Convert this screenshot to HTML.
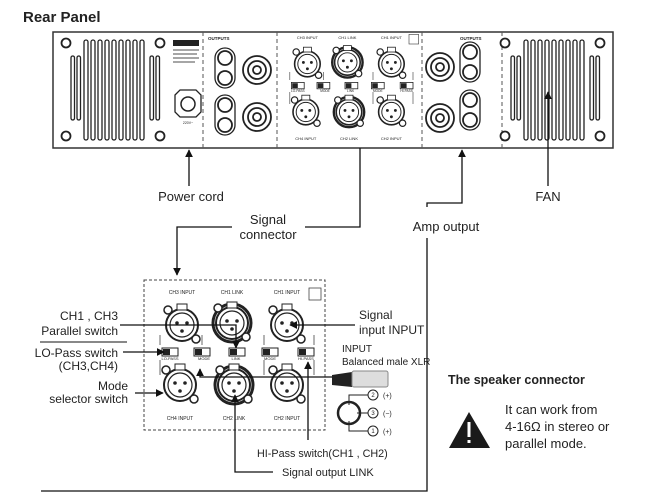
<!DOCTYPE html>
<html><head><meta charset="utf-8"><style>
body{margin:0;background:#fff}
svg{display:block}
text{font-family:"Liberation Sans","DejaVu Sans",sans-serif;fill:#222}
</style></head><body>
<svg width="656" height="500" viewBox="0 0 656 500" xmlns="http://www.w3.org/2000/svg">
<defs>
<marker id="ar" viewBox="0 0 10 10" refX="9" refY="5" markerWidth="6" markerHeight="6" orient="auto"><path d="M0,0L10,5L0,10z" fill="#111"/></marker>
<g id="xlr">
<circle r="16" fill="#fff" stroke="#222" stroke-width="2"/><circle r="12" fill="none" stroke="#222" stroke-width="1.2"/>
<circle cx="-5" cy="-2" r="1.8" fill="#222"/><circle cx="5" cy="-2" r="1.8" fill="#222"/><circle cx="0" cy="6" r="1.8" fill="#222"/>
<circle cx="-14" cy="-15" r="4" fill="#fff" stroke="#222" stroke-width="1.5"/><circle cx="14" cy="14" r="4" fill="#fff" stroke="#222" stroke-width="1.5"/>
<rect x="-5" y="-21" width="10" height="6" fill="#fff" stroke="#222"/>
</g>
<g id="sw"><rect x="-8" y="-4" width="16" height="8" fill="#fff" stroke="#222"/><rect x="-7" y="-3" width="7" height="6" fill="#222"/></g>
<g id="mod">
<g font-size="5" text-anchor="middle">
<text x="38" y="14">CH3 INPUT</text><text x="88" y="14">CH1 LINK</text><text x="143" y="14">CH1 INPUT</text>
<text x="36" y="140">CH4 INPUT</text><text x="90" y="140">CH2 LINK</text><text x="143" y="140">CH2 INPUT</text>
<text x="26" y="80" font-size="4">LO-PASS</text><text x="60" y="80" font-size="4">MODE</text><text x="92" y="80" font-size="4">LINK</text><text x="126" y="80" font-size="4">MODE</text><text x="162" y="80" font-size="4">HI-PASS</text>
</g>
<rect x="165" y="8" width="12" height="12" fill="none" stroke="#444" stroke-width="0.8"/>
<path d="M16,55V65M16,80V95M58,55V65M120,55V65M120,80V95M170,55V65M170,80V95" stroke="#444" stroke-width="0.8"/>
<use href="#xlr" x="38" y="45"/><use href="#xlr" x="36" y="105"/><use href="#xlr" x="143" y="45"/><use href="#xlr" x="143" y="105"/>
<circle cx="88" cy="43" r="19" fill="#fff" stroke="#222" stroke-width="3"/><use href="#xlr" x="88" y="43"/>
<circle cx="90" cy="105" r="19" fill="#fff" stroke="#222" stroke-width="3"/><use href="#xlr" x="90" y="105"/>
<use href="#sw" x="26" y="72"/><use href="#sw" x="58" y="72"/><use href="#sw" x="93" y="72"/><use href="#sw" x="126" y="72"/><use href="#sw" x="162" y="72"/>
</g>
</defs>

<text x="23" y="22" font-size="15" font-weight="bold" fill="#111">Rear Panel</text>

<rect x="53" y="32" width="560" height="116" fill="#fff" stroke="#333" stroke-width="1.5"/>
<path d="M203,32V148M277,32V148M422,32V148M502,32V148" stroke="#555" stroke-dasharray="4,3"/>
<g fill="#fff" stroke="#222" stroke-width="1.8">
<circle cx="66" cy="43" r="4.5"/><circle cx="160" cy="43" r="4.5"/><circle cx="66" cy="136" r="4.5"/><circle cx="160" cy="136" r="4.5"/>
<circle cx="505" cy="43" r="4.5"/><circle cx="600" cy="43" r="4.5"/><circle cx="505" cy="136" r="4.5"/><circle cx="600" cy="136" r="4.5"/>
</g>
<g fill="#fff" stroke="#222" stroke-width="1.3">
<rect x="71" y="56" width="3.5" height="64" rx="1.7"/><rect x="77" y="56" width="3.5" height="64" rx="1.7"/>
<rect x="150" y="56" width="3.5" height="64" rx="1.7"/><rect x="156" y="56" width="3.5" height="64" rx="1.7"/>
<rect x="84" y="40" width="4" height="100" rx="2"/><rect x="91" y="40" width="4" height="100" rx="2"/><rect x="98" y="40" width="4" height="100" rx="2"/><rect x="105" y="40" width="4" height="100" rx="2"/><rect x="112" y="40" width="4" height="100" rx="2"/><rect x="119" y="40" width="4" height="100" rx="2"/><rect x="126" y="40" width="4" height="100" rx="2"/><rect x="133" y="40" width="4" height="100" rx="2"/><rect x="140" y="40" width="4" height="100" rx="2"/>
<rect x="511" y="56" width="3.5" height="64" rx="1.7"/><rect x="517" y="56" width="3.5" height="64" rx="1.7"/>
<rect x="590" y="56" width="3.5" height="64" rx="1.7"/><rect x="596" y="56" width="3.5" height="64" rx="1.7"/>
<rect x="524" y="40" width="4" height="100" rx="2"/><rect x="531" y="40" width="4" height="100" rx="2"/><rect x="538" y="40" width="4" height="100" rx="2"/><rect x="545" y="40" width="4" height="100" rx="2"/><rect x="552" y="40" width="4" height="100" rx="2"/><rect x="559" y="40" width="4" height="100" rx="2"/><rect x="566" y="40" width="4" height="100" rx="2"/><rect x="573" y="40" width="4" height="100" rx="2"/><rect x="580" y="40" width="4" height="100" rx="2"/>
</g>
<rect x="173" y="40" width="26" height="6" fill="#222"/>
<path d="M173,50H199M173,54H197M173,58H199M173,62H195" stroke="#888" stroke-width="1.5"/>
<path d="M175,95L180,90H196L201,95V112L196,117H180L175,112Z" fill="#fff" stroke="#222" stroke-width="1.3"/>
<circle cx="188" cy="104" r="7" fill="#fff" stroke="#222" stroke-width="1.5"/>
<text x="188" y="124" font-size="3.5" text-anchor="middle">220V~</text>
<g fill="#fff" stroke="#222" stroke-width="1.3">
<rect x="215" y="48" width="20" height="40" rx="10"/><rect x="215" y="95" width="20" height="40" rx="10"/>
<rect x="460" y="42" width="20" height="40" rx="10"/><rect x="460" y="90" width="20" height="40" rx="10"/>
</g>
<g fill="#fff" stroke="#222" stroke-width="1.8">
<circle cx="225" cy="58" r="7"/><circle cx="225" cy="78" r="7"/><circle cx="225" cy="105" r="7"/><circle cx="225" cy="125" r="7"/>
<circle cx="470" cy="52" r="7"/><circle cx="470" cy="72" r="7"/><circle cx="470" cy="100" r="7"/><circle cx="470" cy="120" r="7"/>
<circle cx="257" cy="70" r="14"/><circle cx="257" cy="70" r="9"/><circle cx="257" cy="70" r="4"/>
<circle cx="257" cy="117" r="14"/><circle cx="257" cy="117" r="9"/><circle cx="257" cy="117" r="4"/>
<circle cx="440" cy="67" r="14"/><circle cx="440" cy="67" r="9"/><circle cx="440" cy="67" r="4"/>
<circle cx="440" cy="118" r="14"/><circle cx="440" cy="118" r="9"/><circle cx="440" cy="118" r="4"/>
</g>
<g font-size="4.5" font-weight="bold"><text x="208" y="40">OUTPUTS</text><text x="460" y="40">OUTPUTS</text></g>
<g transform="translate(277,28) scale(0.8)"><use href="#mod"/></g>

<g stroke="#111" stroke-width="1.3" fill="none">
<path d="M189,186V150" marker-end="url(#ar)"/>
<path d="M360,148V227H305"/>
<path d="M232,227H177V275" marker-end="url(#ar)"/>
<path d="M427,207V203H462V150" marker-end="url(#ar)"/>
<path d="M427,238V491H41"/>
<path d="M548,186V92" marker-end="url(#ar)"/>
</g>
<g font-size="13" text-anchor="middle">
<text x="191" y="201">Power cord</text>
<text x="268" y="224">Signal</text><text x="268" y="239">connector</text>
<text x="446" y="231">Amp output</text>
<text x="548" y="201">FAN</text>
</g>

<rect x="144" y="280" width="181" height="150" fill="none" stroke="#444" stroke-dasharray="3,2"/>
<use href="#mod" x="144" y="280"/>

<g stroke="#111" stroke-width="1.3" fill="none">
<path d="M120,325H236V348" marker-end="url(#ar)"/>
<path d="M40,342H127" stroke-width="1"/>
<path d="M123,352H164" marker-end="url(#ar)"/>
<path d="M135,393H163" marker-end="url(#ar)"/>
<path d="M340,377H200V369" marker-end="url(#ar)"/>
<path d="M355,325H290" marker-end="url(#ar)"/>
<path d="M308,440V362" marker-end="url(#ar)"/>
<path d="M273,472H235V395" marker-end="url(#ar)"/>
</g>
<g font-size="12" text-anchor="end">
<text x="118" y="320">CH1 , CH3</text><text x="118" y="335">Parallel switch</text>
<text x="118" y="357">LO-Pass switch</text><text x="118" y="370">(CH3,CH4)</text>
<text x="128" y="390">Mode</text><text x="128" y="403">selector switch</text>
</g>
<g font-size="12">
<text x="359" y="319">Signal</text><text x="359" y="334">input INPUT</text>
<text x="257" y="457" font-size="10.8">HI-Pass switch(CH1 , CH2)</text>
<text x="282" y="476" font-size="11">Signal output LINK</text>
<text x="342" y="352" font-size="10">INPUT</text><text x="342" y="365" font-size="10">Balanced male XLR</text>
</g>
<path d="M332,375L352,372V387L332,385Z" fill="#222"/>
<rect x="352" y="371" width="36" height="16" rx="2" fill="#ddd" stroke="#888"/>
<g stroke="#222" fill="none" stroke-width="1">
<circle cx="349" cy="413" r="11" stroke-width="2.5"/>
<path d="M349,405V395H368M357,413H368M349,421V431H368"/>
<circle cx="373" cy="395" r="5" fill="#fff"/><circle cx="373" cy="413" r="5" fill="#fff"/><circle cx="373" cy="431" r="5" fill="#fff"/>
</g>
<g font-size="6" text-anchor="middle"><text x="373" y="397">2</text><text x="373" y="415">3</text><text x="373" y="433">1</text></g>
<g font-size="7"><text x="383" y="398">(+)</text><text x="383" y="416">(−)</text><text x="383" y="434">(+)</text></g>

<text x="448" y="384" font-size="12.5" font-weight="bold">The speaker connector</text>
<path d="M449,448L469,412L490,448Z" fill="#1a1a1a"/>
<rect x="467.5" y="422" width="3" height="15" fill="#fff"/><rect x="467.5" y="440" width="3" height="3" fill="#fff"/>
<g font-size="13"><text x="505" y="414">It can work from</text><text x="505" y="431">4-16Ω in stereo or</text><text x="505" y="448">parallel mode.</text></g>
</svg>
</body></html>
